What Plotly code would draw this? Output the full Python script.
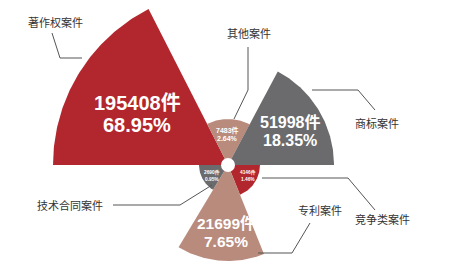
import numpy as np
import plotly.graph_objects as go

categories = ['著作权案件', '其他案件', '商标案件', '竞争类案件', '专利案件', '技术合同案件']
counts = [195408, 7483, 51998, 4146, 21699, 2690]
shares = [68.95, 2.64, 18.35, 1.46, 7.65, 0.95]
# drawn wedge length (visual radius)
wedge_len = [175, 46, 106, 32, 96, 29]
angle_start = [117, 62, 0, -68, -121, 180]
angle_end = [180, 117, 62, 0, -68, 239]
colors = ['#B2262E', '#B98B7D', '#6B6B6E', '#B2262E', '#B98B7D', '#6B6B6E']

fig = go.Figure()
for name, r, a0, a1, c in zip(categories, wedge_len, angle_start, angle_end, colors):
    t = np.radians(np.linspace(a0, a1, 80))
    xs = np.concatenate([[0], r * np.cos(t), [0]])
    ys = np.concatenate([[0], r * np.sin(t), [0]])
    fig.add_trace(go.Scatter(x=xs, y=ys, fill='toself', fillcolor=c, mode='lines',
                             line=dict(width=0, color=c), name=name, hoverinfo='name'))

# value labels
val_pos = [(-91, 62, 40, 20), (-1, 35, 27, 7), (62, 43, 25, 16), (20, -7, -14, 4.8),
           (-2, -58, -76, 15.5), (-16, -7, -14, 4.8)]
annotations = []
for cnt, sh, (x, y1, y2, fs) in zip(counts, shares, val_pos):
    for txt, yy in ((f'{cnt}件', y1), (f'{sh:.2f}%', y2)):
        annotations.append(dict(x=x, y=yy, text=f'<b>{txt}</b>', showarrow=False,
                                font=dict(family='Liberation Sans, Noto Sans CJK SC', size=fs, color='white'),
                                xanchor='center', yanchor='middle'))

# category labels and leader lines
lab_pos = [(-173, 143), (21, 132), (149, 42), (154, -54), (92, -45), (-158, -40)]
leaders = [
    [(-176, 132), (-168, 107), (-146, 107)],
    [(20, 118), (20, 75), (6, 46)],
    [(84, 75), (130, 75), (147, 55)],
    [(34, -13), (120, -13), (147, -45)],
    [(82, -58), (64, -88), (30, -88)],
    [(-115, -40), (-48, -40), (-16, -20)],
]
for name, (x, y), pts in zip(categories, lab_pos, leaders):
    annotations.append(dict(x=x, y=y, text=name, showarrow=False,
                            font=dict(family='Noto Sans CJK SC', size=11, color='#333333'),
                            xanchor='center', yanchor='middle'))
    fig.add_trace(go.Scatter(x=[p[0] for p in pts], y=[p[1] for p in pts], mode='lines',
                             line=dict(color='#555555', width=1), hoverinfo='skip'))

fig.add_shape(type='circle', x0=-7, y0=-7, x1=7, y1=7, fillcolor='white',
              line=dict(width=0), layer='above')

fig.update_layout(
    width=449, height=271, margin=dict(l=0, r=0, t=0, b=0),
    paper_bgcolor='white', plot_bgcolor='white', showlegend=False,
    xaxis=dict(range=[-228, 221], visible=False, fixedrange=True),
    yaxis=dict(range=[-106, 165], visible=False, fixedrange=True),
    annotations=annotations,
)
fig.write_html('out.html')
